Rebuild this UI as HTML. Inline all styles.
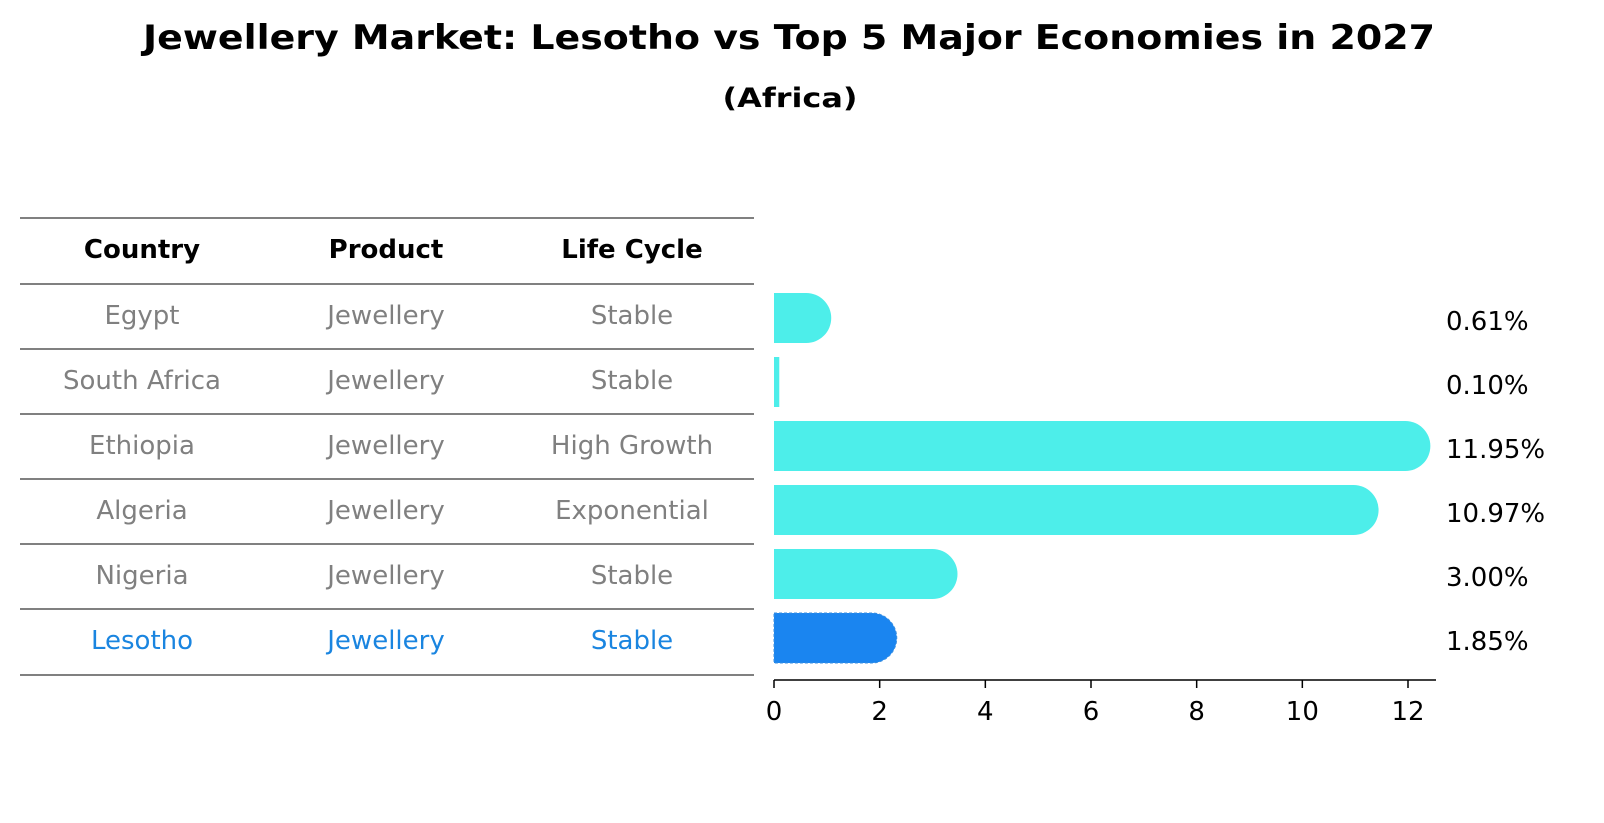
<!DOCTYPE html>
<html><head><meta charset="utf-8"><style>
html,body{margin:0;padding:0;background:#fff;overflow:hidden;width:1604px;height:823px;}
svg{display:block;}
svg text{font-family:"DejaVu Sans","Liberation Sans",sans-serif;}
</style></head><body>
<svg width="1604" height="823" viewBox="0 0 1604 823" xmlns="http://www.w3.org/2000/svg">
<text x="789" y="49" text-anchor="middle" font-size="34" font-weight="bold" textLength="1292" lengthAdjust="spacingAndGlyphs">Jewellery Market: Lesotho vs Top 5 Major Economies in 2027</text>
<text x="790" y="107" text-anchor="middle" font-size="27" font-weight="bold" textLength="135" lengthAdjust="spacingAndGlyphs">(Africa)</text>
<g id="table"></g>
<g id="bars"></g>
</svg>
<script>
const countries=["Egypt","South Africa","Ethiopia","Algeria","Nigeria","Lesotho"];
const products=["Jewellery","Jewellery","Jewellery","Jewellery","Jewellery","Jewellery"];
const lifeCycles=["Stable","Stable","High Growth","Exponential","Stable","Stable"];
const values=[0.61,0.10,11.95,10.97,3.00,1.85];
const ticks=[0,2,4,6,8,10,12];
const NS="http://www.w3.org/2000/svg";
function mk(tag,attrs,parent,txt){const e=document.createElementNS(NS,tag);for(const k in attrs)e.setAttribute(k,attrs[k]);if(txt!==undefined)e.textContent=txt;parent.appendChild(e);return e;}
const tbl=document.getElementById('table');
const lineYs=[218,284,349,414,479,544,609,675];
lineYs.forEach(y=>{const l=mk('line',{x1:20,x2:754,y1:y,y2:y,stroke:'#000','stroke-width':1},tbl);

});
const colX=[142,386,632];
["Country","Product","Life Cycle"].forEach((h,i)=>{const t=mk('text',{x:colX[i],y:258,'text-anchor':'middle','font-size':26,'font-weight':'bold'},tbl,h);

});
const rowCy=i=>315+i*65;
countries.forEach((c,i)=>{const col=c==="Lesotho"?"#1a85e0":"#808080";
[c,products[i],lifeCycles[i]].forEach((v,j)=>{const t=mk('text',{x:colX[j],y:rowCy(i)+9,'text-anchor':'middle','font-size':26,fill:col},tbl,v);

});});
const g=document.getElementById('bars');
const x0=774,xs=(1408-774)/12,xv=v=>x0+v*xs;
const barY=i=>318+i*64,bh=50,r=25;
values.forEach((v,i)=>{const w=xv(v)-x0,y=barY(i)-bh/2;const les=countries[i]==="Lesotho";
let d;
if(w>=r){d=`M${x0},${y}H${x0+w}A${r},${r} 0 0 1 ${x0+w},${y+bh}H${x0}Z`;}else{d=`M${x0},${y}H${x0+w}V${y+bh}H${x0}Z`;}
const p=mk('path',{d:d,fill:les?'#1a85f0':'#4deeea'},g);
if(les){p.setAttribute('stroke','#3a8fe0');p.setAttribute('stroke-dasharray','3,2');}


const t=mk('text',{x:1446,y:barY(i)+12,'font-size':26},g,v.toFixed(2)+'%');

});
const ax=mk('line',{x1:774,x2:1436,y1:680,y2:680,stroke:'#000','stroke-width':1.5},g);


ticks.forEach(tv=>{const tl=mk('line',{x1:xv(tv),x2:xv(tv),y1:680,y2:688,stroke:'#000','stroke-width':1.5},g);


const t=mk('text',{x:xv(tv),y:720,'text-anchor':'middle','font-size':26},g,tv);

});
</script>
</body></html>
